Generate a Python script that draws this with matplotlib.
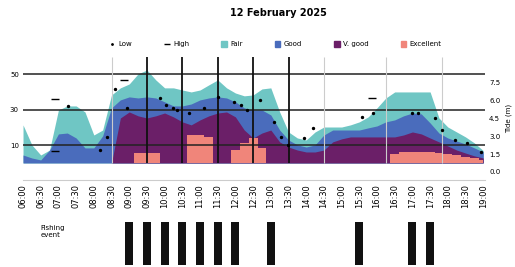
import numpy as np
import matplotlib
matplotlib.use("Agg")
import matplotlib.pyplot as plt
from matplotlib.lines import Line2D
from matplotlib.patches import Patch

# x positions (tick index units, half-tick spacing)
x = np.arange(53) * 0.5

fair = [21.5, 10.2, 4.5, 7.3, 29.9, 32.2, 32.2, 28.8, 15.8, 18.6,
        38.4, 42.4, 44.6, 50.3, 52.5, 46.9, 42.4, 42.4, 41.2, 40.1,
        41.2, 44.1, 46.9, 42.4, 39.5, 37.9, 38.4, 41.8, 42.4, 28.8,
        17.5, 14.1, 13.0, 17.5, 20.3, 20.3, 20.3, 21.5, 23.2, 26.0,
        31.1, 36.7, 40.1, 40.1, 40.1, 40.1, 40.1, 25.4, 20.3, 17.5,
        14.7, 11.3, 7.0]
good = [4.5, 2.8, 1.7, 7.3, 16.4, 16.9, 14.1, 8.5, 8.5, 15.3,
        31.1, 35.6, 37.3, 36.7, 37.3, 36.7, 34.5, 32.2, 32.2, 33.3,
        35.6, 36.7, 37.3, 36.7, 34.5, 31.1, 29.9, 29.9, 27.1, 18.6,
        13.0, 10.2, 9.0, 10.2, 15.8, 18.6, 18.6, 18.6, 18.6, 19.8,
        20.9, 23.2, 24.3, 26.6, 28.2, 27.7, 22.6, 16.9, 14.1, 12.4,
        10.7, 8.5, 6.2]
vgood = [0, 0, 0, 0, 0, 0, 0, 0, 0, 0,
         0, 25.4, 28.8, 26.6, 25.4, 26.6, 28.2, 26.0, 23.2, 21.5,
         24.3, 26.6, 28.2, 28.8, 26.0, 18.6, 14.1, 16.9, 18.6, 11.9,
         9.0, 7.3, 6.2, 6.2, 7.3, 11.9, 13.6, 14.7, 14.7, 14.7,
         14.7, 14.7, 14.7, 15.8, 17.5, 16.4, 14.1, 11.9, 9.6, 7.3,
         5.6, 4.0, 2.8]
excellent = [0, 0, 0, 0, 0, 0, 0, 0, 0, 0,
             0, 0, 0, 5.6, 5.6, 5.6, 0, 0, 0, 15.8,
             15.8, 14.7, 0, 0, 7.3, 11.3, 14.1, 8.5, 0, 0,
             0, 0, 0, 0, 0, 0, 0, 0, 0, 0,
             0, 0, 5.1, 6.2, 6.2, 6.2, 6.2, 5.6, 5.1, 4.5,
             3.4, 2.8, 1.7]

low_x = [2.55, 4.35, 4.75, 5.2, 5.9, 7.75, 8.1, 8.5, 8.7, 9.4, 10.2, 11.0,
         11.9, 12.3, 12.65, 13.4, 14.2, 14.6, 14.95, 15.9, 16.4, 19.15,
         19.8, 22.0, 22.3, 23.3, 23.7, 24.4, 25.1, 25.9]
low_y = [32.2, 7.3, 14.7, 41.8, 31.1, 36.7, 32.8, 31.1, 29.9, 28.2, 31.1,
         37.3, 34.5, 32.8, 29.9, 35.6, 23.2, 14.7, 10.2, 14.1, 19.8, 26.0,
         28.2, 28.2, 28.2, 25.4, 18.6, 13.0, 11.3, 6.2]
high_x = [1.8, 5.7, 19.7, 1.8]
high_y = [36.2, 46.9, 36.7, 6.8]

ticks = ["%02d:%02d" % (6 + i // 2, 30 * (i % 2)) for i in range(27)]
events = [6, 7, 8, 9, 10, 11, 12, 14, 19, 22, 23]
right_ticks = [0.0, 1.5, 3.0, 4.5, 6.0, 7.5]

c_fair = "#6fc6c4"
c_good = "#4a6cbc"
c_vgood = "#6b1f68"
c_exc = "#f0857a"

plt.rcParams["font.family"] = ["DejaVu Sans"]
fig = plt.figure(figsize=(5.15, 2.67), dpi=100)
ax = fig.add_axes([0.0447, 0.326, 0.897, 0.461])
ax2 = fig.add_axes([0.0447, 0.0075, 0.897, 0.161])

ax.fill_between(x, 0, fair, color=c_fair, lw=0)
ax.fill_between(x, 0, good, color=c_good, lw=0)
ax.fill_between(x, 0, vgood, color=c_vgood, lw=0)
ax.fill_between(x, 0, excellent, color=c_exc, lw=0, step="mid")
ax.scatter(low_x, low_y, s=2, color="black", zorder=4)
ax.scatter(high_x, high_y, s=30, marker="_", color="black", lw=1, zorder=4)

for v in [10, 30, 50]:
    ax.axhline(v, color="#222222", lw=1.1, zorder=3)
for t in [7, 9, 11, 13, 15]:
    ax.vlines(t, 0, 60, color="#111111", lw=1.3, zorder=3)
for t in [5, 17, 20.5, 23.7]:
    ax.vlines(t, 0, 60, color="#cccccc", lw=0.8, zorder=3)

ax.set_xlim(0, 26.1)
ax.set_ylim(-9.6, 59.9)
ax.set_yticks([10, 30, 50])
ax.set_yticklabels(["10", "30", "50"], fontsize=5)
ax.set_xticks(range(27))
ax.set_xticklabels(ticks, rotation=90, fontsize=6)
ax.tick_params(length=0, pad=3)
for s in ["top", "left", "right"]:
    ax.spines[s].set_visible(False)
ax.spines["bottom"].set_color("#cccccc")

axr = ax.twinx()
axr.set_ylim(-0.67, 9.69)
axr.set_yticks(right_ticks)
axr.set_yticklabels(["%.1f" % v for v in right_ticks], fontsize=5)
axr.tick_params(length=0, pad=3)
axr.set_ylabel("Tide (m)", fontsize=5, labelpad=4)
for s in axr.spines.values():
    s.set_visible(False)

ax2.bar(events, 1, width=0.45, color="#111111")
ax2.set_xlim(0, 26.1)
ax2.set_ylim(0, 1)
ax2.text(1.0, 0.78, "Fishing\nevent", fontsize=5, va="center", ha="left")
ax2.axis("off")

fig.text(0.54, 0.95, "12 February 2025", ha="center", va="center",
         fontsize=7, fontweight="bold")

handles = [Line2D([], [], ls="none", marker=".", ms=2, color="black"),
           Line2D([], [], ls="none", marker="_", ms=4, color="black"),
           Patch(color=c_fair), Patch(color=c_good),
           Patch(color=c_vgood), Patch(color=c_exc)]
labels = ["Low", "High", "Fair", "Good", "V. good", "Excellent"]
fig.legend(handles, labels, loc="center", bbox_to_anchor=(0.535, 0.835),
           ncol=6, frameon=False, fontsize=5, handlelength=0.8,
           handleheight=0.9, columnspacing=4.6, handletextpad=0.5)

fig.savefig("out.png", dpi=100)
